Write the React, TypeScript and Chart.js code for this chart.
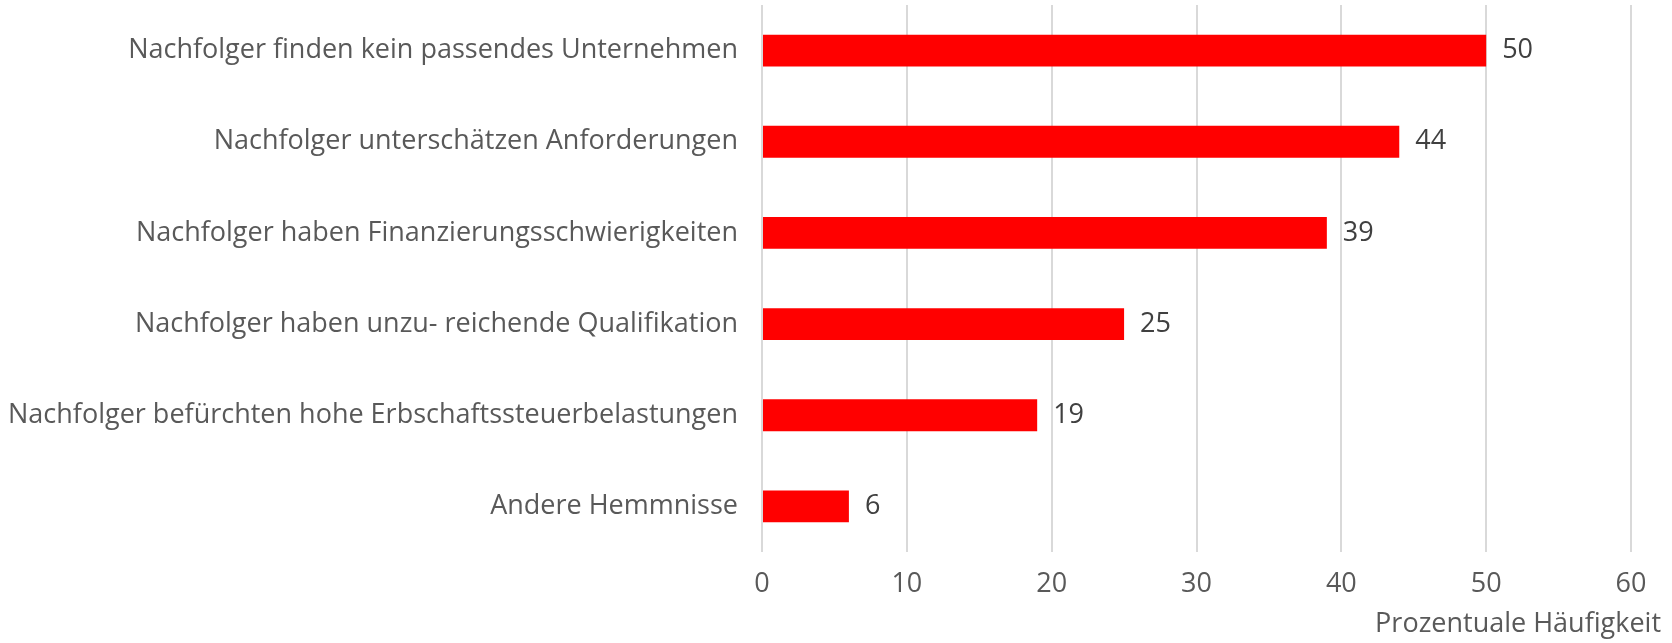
import React, { useEffect, useRef } from "react";
import { Chart, registerables } from "chart.js";

Chart.register(...registerables);

const categories = [
  "Nachfolger finden kein passendes Unternehmen",
  "Nachfolger unterschätzen Anforderungen",
  "Nachfolger haben Finanzierungsschwierigkeiten",
  "Nachfolger haben unzu- reichende Qualifikation",
  "Nachfolger befürchten hohe Erbschaftssteuerbelastungen",
  "Andere Hemmnisse",
];
const values = [50, 44, 39, 25, 19, 6];
const xTicks = [0, 10, 20, 30, 40, 50, 60];
const axisTitle = "Prozentuale Häufigkeit";

export default function App() {
  const ref = useRef<HTMLCanvasElement>(null);

  useEffect(() => {
    document.body.style.margin = "0";
    const family = "'Open Sans', sans-serif";
    const size = 27;
    const font = { family, size };

    const valueLabels = {
      id: "valueLabels",
      afterDatasetsDraw(chart: any) {
        const ctx = chart.ctx;
        const meta = chart.getDatasetMeta(0);
        ctx.save();
        ctx.font = `${size}px ${family}`;
        ctx.fillStyle = "#404040";
        ctx.textAlign = "left";
        ctx.textBaseline = "middle";
        meta.data.forEach((bar: any, i: number) => {
          ctx.fillText(String(values[i]), bar.x + 16, bar.y);
        });
        ctx.restore();
      },
    };

    const axisTitlePlugin = {
      id: "axisTitle",
      afterDraw(chart: any) {
        const ctx = chart.ctx;
        const xs = chart.scales.x;
        ctx.save();
        ctx.font = `${size}px ${family}`;
        ctx.fillStyle = "#595959";
        ctx.textAlign = "right";
        ctx.textBaseline = "middle";
        ctx.fillText(axisTitle, xs.right + 30, 624);
        ctx.restore();
      },
    };

    const chart = new Chart(ref.current as HTMLCanvasElement, {
      type: "bar",
      data: {
        labels: categories,
        datasets: [
          {
            data: values,
            backgroundColor: "#ff0000",
            borderWidth: 0,
            barPercentage: 0.35,
            categoryPercentage: 1,
          },
        ],
      },
      options: {
        indexAxis: "y",
        responsive: false,
        animation: false,
        layout: { padding: { top: 5, right: 41, bottom: 0, left: 0 } },
        plugins: {
          legend: { display: false },
          tooltip: { enabled: false },
        },
        scales: {
          x: {
            min: 0,
            max: 60,
            afterBuildTicks: (s: any) => {
              s.ticks = xTicks.map((v) => ({ value: v }));
            },
            ticks: { padding: 16, color: "#595959", font },
            grid: { color: "#d9d9d9", lineWidth: 2, drawTicks: false },
            border: { display: false },
            afterFit: (s: any) => {
              s.height = 91;
              s.paddingLeft = 0;
              s.paddingRight = 0;
            },
          },
          y: {
            ticks: { padding: 24, color: "#595959", font },
            grid: { display: false, drawTicks: false },
            border: { display: false },
            afterFit: (s: any) => {
              s.width = 762;
              s.paddingTop = 0;
              s.paddingBottom = 0;
            },
          },
        },
      },
      plugins: [valueLabels, axisTitlePlugin],
    } as any);

    return () => chart.destroy();
  }, []);

  return (
    <canvas
      ref={ref}
      width={1672}
      height={643}
      style={{ display: "block", width: 1672, height: 643 }}
    />
  );
}
